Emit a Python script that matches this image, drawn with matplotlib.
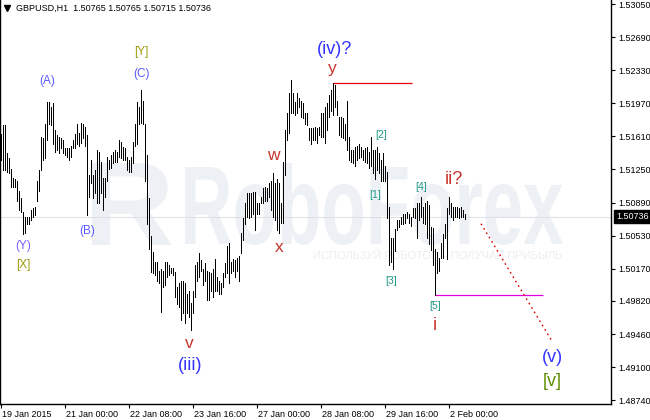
import matplotlib
matplotlib.use("Agg")
import matplotlib.pyplot as plt
from matplotlib.textpath import TextPath
from matplotlib.patches import PathPatch
from matplotlib.font_manager import FontProperties
from matplotlib.transforms import Affine2D, IdentityTransform, offset_copy
from matplotlib.lines import Line2D

# ---------------- data ----------------
symbol = "GBPUSD,H1"
last_ohlc = [1.50765, 1.50765, 1.50715, 1.50736]

bar_high = [
    1.5164, 1.5173, 1.5173, 1.5143, 1.5137, 1.5126, 1.5116, 1.5115, 1.5113, 1.5102,
    1.5094, 1.5079, 1.5073, 1.5073, 1.5073, 1.5081, 1.5083, 1.5084, 1.5113, 1.5124,
    1.5160, 1.5159, 1.5175, 1.5198, 1.5198, 1.5193, 1.5197, 1.5168, 1.5162, 1.5160,
    1.5159, 1.5157, 1.5148, 1.5148, 1.5148, 1.5151, 1.5157, 1.5164, 1.5175, 1.5165,
    1.5176, 1.5175, 1.5171, 1.5162, 1.5119, 1.5135, 1.5119, 1.5124, 1.5146, 1.5144,
    1.5133, 1.5116, 1.5116, 1.5139, 1.5135, 1.5141, 1.5144, 1.5146, 1.5144, 1.5157,
    1.5155, 1.5149, 1.5148, 1.5139, 1.5135, 1.5139, 1.5155, 1.5175, 1.5198, 1.5193,
    1.5211, 1.5200, 1.5175, 1.5141, 1.5094, 1.5053, 1.5035, 1.5024, 1.5024, 1.5015,
    1.5017, 1.5015, 1.5024, 1.5024, 1.5021, 1.5018, 1.5018, 1.5013, 1.4997, 1.5002,
    1.5004, 1.5004, 1.5002, 1.4990, 1.4993, 1.4980, 1.4993, 1.5021, 1.5024, 1.5034,
    1.5026, 1.5017, 1.5023, 1.5015, 1.5013, 1.5012, 1.5017, 1.5028, 1.5008, 1.5004,
    1.5001, 1.5012, 1.5023, 1.5042, 1.5045, 1.5024, 1.5028, 1.5026, 1.5029, 1.5031,
    1.5056, 1.5072, 1.5088, 1.5099, 1.5099, 1.5099, 1.5100, 1.5100, 1.5089, 1.5089,
    1.5095, 1.5105, 1.5106, 1.5105, 1.5110, 1.5113, 1.5121, 1.5110, 1.5115, 1.5110,
    1.5088, 1.5133, 1.5168, 1.5186, 1.5208, 1.5222, 1.5208, 1.5198, 1.5208, 1.5203,
    1.5200, 1.5197, 1.5187, 1.5187, 1.5170, 1.5170, 1.5170, 1.5171, 1.5170, 1.5171,
    1.5186, 1.5187, 1.5193, 1.5197, 1.5206, 1.5211, 1.5219, 1.5217, 1.5200, 1.5182,
    1.5182, 1.5181, 1.5175, 1.5200, 1.5160, 1.5146, 1.5146, 1.5149, 1.5151, 1.5153,
    1.5149, 1.5146, 1.5148, 1.5149, 1.5144, 1.5160, 1.5146, 1.5146, 1.5149, 1.5143,
    1.5135, 1.5143, 1.5129, 1.5122, 1.5084, 1.5050, 1.5050, 1.5060, 1.5070, 1.5070,
    1.5073, 1.5077, 1.5077, 1.5079, 1.5077, 1.5073, 1.5083, 1.5083, 1.5088, 1.5089,
    1.5095, 1.5084, 1.5089, 1.5091, 1.5086, 1.5062, 1.5061, 1.5039, 1.5035, 1.5029,
    1.5045, 1.5055, 1.5066, 1.5083, 1.5095, 1.5088, 1.5084, 1.5084, 1.5084, 1.5083,
    1.5084, 1.5081, 1.50765,
]

bar_low = [
    1.5135, 1.5124, 1.5124, 1.5122, 1.5121, 1.5106, 1.5106, 1.5106, 1.5091, 1.5081,
    1.5079, 1.5055, 1.5056, 1.5066, 1.5066, 1.5070, 1.5073, 1.5075, 1.5091, 1.5102,
    1.5124, 1.5135, 1.5137, 1.5157, 1.5175, 1.5173, 1.5153, 1.5144, 1.5146, 1.5143,
    1.5148, 1.5143, 1.5141, 1.5139, 1.5135, 1.5139, 1.5148, 1.5148, 1.5153, 1.5151,
    1.5154, 1.5159, 1.5151, 1.5075, 1.5095, 1.5110, 1.5094, 1.5099, 1.5088, 1.5088,
    1.5099, 1.5081, 1.5095, 1.5113, 1.5126, 1.5127, 1.5132, 1.5133, 1.5133, 1.5139,
    1.5137, 1.5135, 1.5135, 1.5124, 1.5122, 1.5122, 1.5132, 1.5151, 1.5153, 1.5175,
    1.5176, 1.5175, 1.5113, 1.5066, 1.5039, 1.5013, 1.5012, 1.5010, 1.5004, 1.5001,
    1.4970, 1.4997, 1.4999, 1.5008, 1.5010, 1.5012, 1.5010, 1.4986, 1.4979, 1.4975,
    1.4961, 1.4969, 1.4958, 1.4969, 1.4964, 1.4950, 1.4969, 1.4986, 1.5004, 1.5008,
    1.5015, 1.4999, 1.5004, 1.4983, 1.4983, 1.4993, 1.4986, 1.4993, 1.4993, 1.4990,
    1.4990, 1.4997, 1.5008, 1.5012, 1.5002, 1.5012, 1.5015, 1.5008, 1.5015, 1.5004,
    1.5034, 1.5048, 1.5066, 1.5073, 1.5072, 1.5073, 1.5077, 1.5059, 1.5077, 1.5077,
    1.5088, 1.5088, 1.5091, 1.5091, 1.5095, 1.5081, 1.5073, 1.5070, 1.5059, 1.5056,
    1.5067, 1.5067, 1.5119, 1.5157, 1.5165, 1.5186, 1.5187, 1.5184, 1.5186, 1.5193,
    1.5182, 1.5181, 1.5175, 1.5173, 1.5157, 1.5153, 1.5157, 1.5157, 1.5154, 1.5162,
    1.5160, 1.5160, 1.5154, 1.5168, 1.5182, 1.5189, 1.5184, 1.5193, 1.5184, 1.5162,
    1.5160, 1.5159, 1.5157, 1.5146, 1.5135, 1.5133, 1.5132, 1.5129, 1.5135, 1.5137,
    1.5139, 1.5135, 1.5133, 1.5132, 1.5127, 1.5129, 1.5121, 1.5115, 1.5124, 1.5121,
    1.5113, 1.5113, 1.5113, 1.5072, 1.5021, 1.5024, 1.5017, 1.5036, 1.5059, 1.5062,
    1.5066, 1.5066, 1.5067, 1.5072, 1.5067, 1.5064, 1.5073, 1.5072, 1.5051, 1.5070,
    1.5073, 1.5067, 1.5066, 1.5051, 1.5044, 1.5037, 1.5021, 1.4988, 1.5012, 1.5015,
    1.5029, 1.5029, 1.5051, 1.5028, 1.5077, 1.5073, 1.5070, 1.5073, 1.5073, 1.5072,
    1.5073, 1.5073, 1.50715,
]

time_tick_bars = [0, 32, 64, 96, 128, 160, 192, 224]
time_tick_labels = ["19 Jan 2015", "21 Jan 00:00", "22 Jan 08:00", "23 Jan 16:00",
                    "27 Jan 00:00", "28 Jan 08:00", "29 Jan 16:00", "2 Feb 00:00"]
price_ticks = [1.53050, 1.52690, 1.52330, 1.51970, 1.51610, 1.51250, 1.50890,
               1.50530, 1.50170, 1.49820, 1.49460, 1.49100, 1.48740]
price_tick_labels = ["1.53050", "1.52690", "1.52330", "1.51970", "1.51610", "1.51250",
                     "1.50890", "1.50530", "1.50170", "1.49820", "1.49460", "1.49100",
                     "1.48740"]

resistance_bar = 166          # top of wave y
resistance_end_bar = 205.5
support_bar = 217             # bottom of wave [5]
support_end_bar = 271
projection_bars = [240, 275]
projection_prices = [1.5066, 1.4940]

# wave labels: text, pixel x, pixel y, colour, size
BLUE = "#3434ff"
LBLUE = "#5a5aff"
VIOL = "#7a5cff"
RED = "#c4342c"
TEAL = "#1f9a86"
OLIVE = "#9a9a10"
GREEN = "#5f8c00"
wave_labels = [
    ("(A)", 47, 81, LBLUE, 8.5), ("[Y]", 141, 52, OLIVE, 8.5), ("(C)", 141, 74, LBLUE, 8.5),
    ("(Y)", 23, 246, VIOL, 8.5), ("[X]", 23, 265, OLIVE, 8.5), ("(B)", 87, 231, LBLUE, 8.5),
    ("v", 189, 344, RED, 12.5), ("(iii)", 190, 365, BLUE, 13),
    ("(iv)?", 335, 49, BLUE, 13), ("y", 332, 69, RED, 12.5),
    ("w", 273, 156, RED, 12.5), ("x", 279, 248, RED, 12.5),
    ("[1]", 375, 195, TEAL, 7.5), ("[2]", 381, 135, TEAL, 7.5), ("[3]", 391, 281, TEAL, 7.5),
    ("[4]", 421, 187, TEAL, 7.5), ("[5]", 435, 306, TEAL, 7.5),
    ("ii?", 454, 179, RED, 13), ("i", 435, 326, RED, 13),
    ("(v)", 552, 358, BLUE, 13), ("[v]", 552, 382, GREEN, 13),
]

# ---------------- figure ----------------
W, H = 650, 420
fig = plt.figure(figsize=(W / 100, H / 100), dpi=100)
fig.patch.set_facecolor("white")
AX_L, AX_R, AX_T, AX_B = 0, 611, 0, 404
ax = fig.add_axes([AX_L / W, (H - AX_B) / H, (AX_R - AX_L) / W, (AX_B - AX_T) / H])
ax.patch.set_alpha(0)

px_per_price = 1.0 / 0.0001088
y_top_price = 1.53094
ax.set_ylim(y_top_price - (AX_B - AX_T) / px_per_price, y_top_price)
ax.set_xlim(-0.5, 305)

# watermark
wm_color = "#edf0f4"
fp = FontProperties(family="Liberation Sans", weight="bold")
tp = TextPath((0, 0), "RoboForex", size=1, prop=fp)
bb = tp.get_extents()
x0, x1, ytop, ybot = 185, 563, 163, 245
tr = Affine2D().translate(-bb.x0, -bb.y0).scale((x1 - x0) / bb.width, (ybot - ytop) / bb.height) \
    .translate(x0, H - ybot)
fig.add_artist(PathPatch(tp, transform=tr + IdentityTransform(), facecolor=wm_color,
                         edgecolor="none", zorder=-2))
# logo block (stylised R)
logo = TextPath((0, 0), "R", size=1, prop=FontProperties(family="Liberation Sans", weight="bold"))
lb = logo.get_extents()
lx0, lx1 = 92, 172
trl = Affine2D().translate(-lb.x0, -lb.y0).scale((lx1 - lx0) / lb.width, (ybot - ytop) / lb.height) \
    .translate(lx0, H - ybot)
fig.add_artist(PathPatch(logo, transform=trl + IdentityTransform(), facecolor=wm_color,
                         edgecolor="none", zorder=-2))
fig.text(438 / W, 1 - 256 / H, "ИСПОЛЬЗУЙ РОБОТОВ – ПОЛУЧАЙ ПРИБЫЛЬ", ha="center", va="center",
         fontsize=8, family="Liberation Sans", color="#eceef2", zorder=-2)

# bid line
ax.axhline(last_ohlc[3], color="#dde1e8", lw=0.8, zorder=1)

# bars
xs = list(range(len(bar_high)))
ax.vlines(xs, bar_low, bar_high, color="black", lw=0.72, antialiased=False, zorder=3)

# level lines
ax.hlines(bar_high[resistance_bar], resistance_bar, resistance_end_bar, colors="#e00000",
          linewidths=0.9, zorder=2)
ax.hlines(bar_low[support_bar], support_bar, support_end_bar, colors="#e000e0",
          linewidths=0.9, zorder=2)
ax.plot(projection_bars, projection_prices, color="#e00000", lw=1.0, ls=(0, (1.2, 2.5)), zorder=2)

# spines / ticks
ax.spines["top"].set_visible(False)
for s in ["left", "bottom", "right"]:
    ax.spines[s].set_color("black")
    ax.spines[s].set_linewidth(1.0)
ax.yaxis.tick_right()
ax.set_yticks(price_ticks)
ax.set_yticklabels(price_tick_labels)
ax.tick_params(axis="y", direction="out", length=3, width=0.8, pad=2, labelsize=6.5, colors="black")
ax.set_xticks(time_tick_bars)
ax.set_xticklabels(time_tick_labels)
ax.tick_params(axis="x", direction="out", length=3, width=0.8, pad=1.5, labelsize=6.5, colors="black")
for lab in ax.get_xticklabels() + ax.get_yticklabels():
    lab.set_family("Liberation Sans")
for lab in ax.get_xticklabels():
    lab.set_ha("left")
    lab.set_transform(offset_copy(lab.get_transform(), fig=fig, x=1, y=0, units="dots"))

# current price box
ax.annotate(f"{last_ohlc[3]:.5f}", xy=(1.0, last_ohlc[3]), xycoords=("axes fraction", "data"),
            xytext=(5, 0), textcoords="offset pixels", ha="left", va="center",
            fontsize=6.5, family="Liberation Sans", color="white",
            bbox=dict(boxstyle="square,pad=0.25", fc="black", ec="black"), zorder=5,
            annotation_clip=False)

# header
fig.add_artist(Line2D([7 / W], [1 - 7.5 / H], marker="v", markersize=4.5, color="black",
                      transform=fig.transFigure))
header = f"{symbol}  " + " ".join(f"{v:.5f}" for v in last_ohlc)
fig.text(16 / W, 1 - 8 / H, header, ha="left", va="center", fontsize=6.5,
         family="Liberation Sans", color="black")

# wave labels
for txt, px, py, col, sz in wave_labels:
    fig.text(px / W, 1 - py / H, txt, ha="center", va="center", fontsize=sz,
             family="Liberation Sans", color=col, zorder=6)

fig.savefig("out.png", dpi=100, facecolor="white")
